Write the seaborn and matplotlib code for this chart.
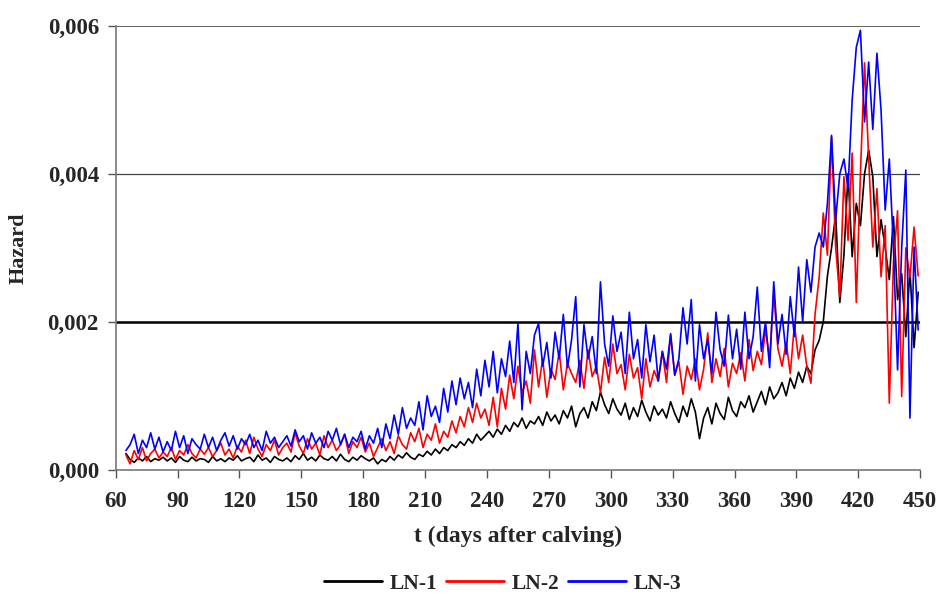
import numpy as np
import pandas as pd
import seaborn as sns
import matplotlib.pyplot as plt
from matplotlib.ticker import FuncFormatter

# days after calving, every 2nd day
days = list(range(65, 450, 2))

# hazard values in units of 1e-5
ln1 = [22, 14, 10, 16, 12, 18, 11, 15, 13, 17,
       12, 16, 10, 18, 13, 11, 17, 12, 15, 14,
       10, 18, 12, 15, 11, 16, 13, 19, 12, 15,
       17, 11, 20, 13, 16, 10, 18, 14, 12, 16,
       11, 19, 14, 22, 13, 17, 12, 20, 15, 13,
       18, 12, 21, 14, 11, 17, 13, 19, 15, 12,
       16, 8, 14, 11, 18, 13, 20, 16, 23, 17,
       14, 21, 18, 25, 20, 28, 22, 30, 26, 34,
       30, 38, 33, 42, 36, 48, 40, 46, 52, 44,
       55, 48, 60, 52, 64, 58, 70, 56, 66, 62,
       72, 60, 78, 66, 74, 62, 80, 70, 86, 58,
       76, 84, 70, 92, 80, 105, 88, 76, 96, 82,
       74, 90, 68, 84, 72, 94, 78, 66, 86, 74,
       82, 70, 92, 76, 64, 86, 72, 96, 78, 42,
       70, 84, 62, 90, 76, 68, 98, 80, 72, 92,
       84, 100, 78, 92, 106, 88, 112, 96, 104, 118,
       100, 124, 110, 132, 118, 140, 130, 162, 175, 200,
       262, 300, 345, 226, 290, 400, 288, 360, 330, 400,
       432, 396, 288, 338, 300, 257, 342, 230, 265, 180,
       270, 165, 240]

ln2 = [20, 8, 26, 14, 30, 12, 22, 28, 16, 24,
       18, 30, 14, 26, 20, 34, 22, 16, 28, 21,
       30, 18, 26, 36, 20, 28, 16, 32, 24, 40,
       22, 44, 28, 18, 34, 26, 40, 20, 30, 36,
       24, 50, 32, 22, 42, 28, 36, 20, 46, 30,
       40, 26, 34, 48, 22, 38, 30, 44, 24, 36,
       18, 30, 42, 26, 38, 22, 46, 34, 28, 50,
       38, 56, 30, 48, 40, 62, 36, 52, 44, 66,
       50, 72, 58, 84, 64, 90, 70, 82, 60, 98,
       58, 110, 82, 128, 96, 140, 104, 120, 90, 162,
       112, 150, 98, 136, 122, 160, 108, 144, 130, 118,
       148, 110, 162, 126, 140, 104, 152, 118, 170, 130,
       142, 108, 156, 124, 138, 96, 150, 112, 134, 120,
       160, 118, 182, 128, 146, 102, 140, 122, 150, 108,
       136, 185, 118, 150, 126, 164, 112, 144, 130, 158,
       120, 176, 134, 160, 142, 190, 150, 238, 164, 140,
       172, 130, 196, 150, 182, 140, 117, 210, 260, 347,
       290, 450, 300, 234, 396, 310, 428, 226, 400, 550,
       420, 301, 380, 261, 330, 90, 280, 350, 99, 300,
       260, 328, 262]

ln3 = [26, 34, 48, 22, 40, 30, 50, 28, 44, 24,
       38, 26, 52, 30, 46, 22, 42, 34, 28, 48,
       30, 44, 26, 40, 50, 32, 46, 28, 42, 34,
       48, 30, 40, 26, 52, 36, 44, 30, 38, 46,
       32, 54, 38, 46, 28, 50, 36, 44, 30, 52,
       40, 56, 34, 48, 30, 44, 38, 52, 28, 46,
       36, 56, 30, 62, 42, 74, 48, 84, 56, 70,
       60, 92, 54, 100, 72, 86, 64, 110, 78, 120,
       88, 124, 96, 118, 84, 136, 100, 148, 112, 160,
       104, 150, 126, 174, 118, 198, 81, 160, 130, 182,
       198, 140, 172, 124, 186, 150, 210, 138, 176, 234,
       112, 196, 150, 180, 130, 254, 170, 140, 208, 160,
       186, 130, 213, 150, 176, 124, 196, 146, 182, 120,
       160, 136, 184, 128, 150, 219, 170, 230, 120, 196,
       150, 176, 130, 213, 162, 140, 209, 150, 190, 136,
       213, 150, 180, 247, 160, 200, 138, 254, 170, 210,
       156, 234, 180, 274, 200, 284, 240, 301, 320, 301,
       360, 452, 338, 400, 420, 380, 500, 571, 594, 470,
       551, 460, 563, 486, 351, 420, 300, 135, 300, 405,
       70, 301, 189]

series = ["LN-1", "LN-2", "LN-3"]
colors = ["black", "red", "blue"]

df = pd.concat([
    pd.DataFrame({"t": days, "hazard": np.array(v) * 1e-5, "line": name})
    for name, v in zip(series, [ln1, ln2, ln3])
])

sns.set_style("white")
plt.rcParams["font.family"] = ["Liberation Serif", "DejaVu Serif"]
plt.rcParams["font.weight"] = "bold"

fig = plt.figure(figsize=(9.4, 6.0), dpi=100)
ax = fig.add_axes([0.123, 0.217, 0.856, 0.74])

sns.lineplot(data=df, x="t", y="hazard", hue="line", palette=colors,
             linewidth=1.2, ax=ax, legend=False)

ax.set_xlim(60, 450)
ax.set_ylim(0, 0.006)
ax.set_xticks(range(60, 451, 30))
ax.set_yticks([0, 0.002, 0.004, 0.006])
ax.yaxis.set_major_formatter(FuncFormatter(lambda v, p: f"{v:.3f}".replace(".", ",")))

# gridlines (the middle one is drawn heavier in the original)
ax.axhline(0.004, color="#444444", lw=0.9, zorder=0)
ax.axhline(0.006, color="#444444", lw=1.2, zorder=0)
ax.axhline(0.002, color="black", lw=1.8, zorder=0)

for s in ["top", "right"]:
    ax.spines[s].set_visible(False)
for s in ["left", "bottom"]:
    ax.spines[s].set_color("#777777")
    ax.spines[s].set_linewidth(1.2)

ax.tick_params(axis="both", direction="out", length=6, width=1, color="#555555",
               labelsize=16.5, bottom=True, left=True)
for lab in ax.get_xticklabels() + ax.get_yticklabels():
    lab.set_fontweight("bold")
ax.tick_params(axis="x", pad=9)
ax.tick_params(axis="y", pad=6)

ax.set_xlabel("t (days after calving)", fontsize=17, fontweight="bold", labelpad=10)
ax.set_ylabel("Hazard", fontsize=16, fontweight="bold", labelpad=14)

handles = [plt.Line2D([], [], color=c, lw=2) for c in colors]
fig.legend(handles, series, loc="lower center", ncol=3, frameon=False,
           bbox_to_anchor=(0.535, -0.022), prop={"weight": "bold", "size": 15.5},
           handlelength=2.7, columnspacing=0.4, handletextpad=0.35)

fig.savefig("out.png", dpi=100)
